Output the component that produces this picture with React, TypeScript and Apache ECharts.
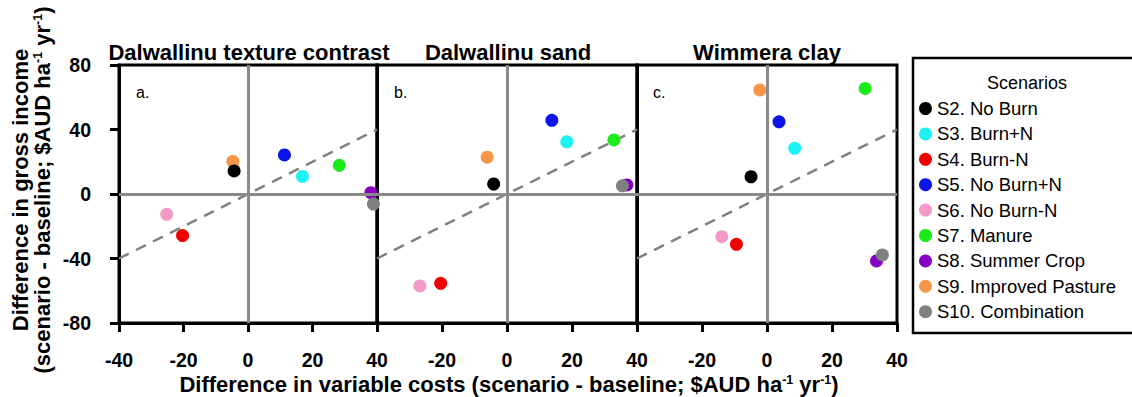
import React, { useEffect, useRef } from "react";
import * as echarts from "echarts";

const scenarios = [
  "S2. No Burn",
  "S3. Burn+N",
  "S4. Burn-N",
  "S5. No Burn+N",
  "S6. No Burn-N",
  "S7. Manure",
  "S8. Summer Crop",
  "S9. Improved Pasture",
  "S10. Combination",
];
const scenarioColors = [
  "#000000",
  "#1AF2F5",
  "#F20000",
  "#0A14EB",
  "#F49AC8",
  "#1AEB1A",
  "#8600C4",
  "#F79646",
  "#808080",
];

// Difference in variable costs (x) and gross income (y), per site
const textureCost = [-4.3, 16.9, -20.3, 11.3, -25.2, 28.3, 38.1, -4.7, 38.9];
const textureIncome = [14.3, 10.9, -25.8, 24.2, -12.6, 17.8, 0.8, 20.2, -6.2];
const sandCost = [-4.1, 18.4, -20.4, 13.8, -26.8, 32.9, 36.9, -6.1, 35.5];
const sandIncome = [6.2, 32.4, -55.4, 45.7, -57.0, 33.5, 5.6, 22.8, 5.1];
const clayCost = [-4.9, 8.5, -9.4, 3.7, -13.9, 30.2, 33.7, -2.2, 35.5];
const clayIncome = [10.7, 28.3, -31.2, 44.8, -26.5, 65.5, -41.5, 64.5, -37.8];

const panelTitles = ["Dalwallinu texture contrast", "Dalwallinu sand", "Wimmera clay"];
const panelLetters = ["a.", "b.", "c."];
const breakEvenLine = [
  [-40, -40],
  [40, 40],
];
const xMin = -40;
const xMax = 40;
const xStep = 20;
const yMin = -80;
const yMax = 80;
const yStep = 40;

const unitText = "$AUD ha{sup|-1} yr{sup|-1})";
const xTitle = "Difference in variable costs (scenario - baseline; " + unitText;
const yTitle1 = "Difference in gross income";
const yTitle2 = "(scenario - baseline; " + unitText;

const FONT = "'Liberation Sans', Arial, Helvetica, sans-serif";

export default function App() {
  const ref = useRef<HTMLDivElement>(null);
  useEffect(() => {
    if (!ref.current) return;
    const chart = echarts.init(ref.current, null, { renderer: "svg" });
    const panels = [
      { cost: textureCost, income: textureIncome },
      { cost: sandCost, income: sandIncome },
      { cost: clayCost, income: clayIncome },
    ];
    const gridLefts = [119, 377, 637];
    const gridWidths = [258, 260, 260];
    const grids = gridLefts.map((l, i) => ({
      left: l,
      top: 65,
      width: gridWidths[i],
      height: 258,
      show: true,
      borderColor: "#000",
      borderWidth: 3,
      backgroundColor: "transparent",
    }));
    const xAxes = gridLefts.map((_, i) => ({
      gridIndex: i,
      type: "value",
      min: xMin,
      max: xMax,
      interval: xStep,
      axisLine: { show: true, onZero: false, lineStyle: { color: "#000", width: 3 } },
      axisTick: { show: true, length: 9, lineStyle: { color: "#000", width: 3 } },
      axisLabel: {
        show: true,
        margin: 27,
        showMinLabel: i === 0,
        color: "#000",
        fontSize: 19.5,
        fontWeight: "bold",
        fontFamily: FONT,
      },
      splitLine: { show: false },
    }));
    const yAxes = gridLefts.map((_, i) => ({
      gridIndex: i,
      type: "value",
      min: yMin,
      max: yMax,
      interval: yStep,
      axisLine: { show: true, onZero: false, lineStyle: { color: "#000", width: 3 } },
      axisTick: { show: i === 0, length: 9, lineStyle: { color: "#000", width: 3 } },
      axisLabel: {
        show: i === 0,
        margin: 28,
        color: "#000",
        fontSize: 19.5,
        fontWeight: "bold",
        fontFamily: FONT,
      },
      splitLine: { show: false },
    }));

    const series: any[] = [];
    panels.forEach((p, pi) => {
      series.push({
        type: "line",
        xAxisIndex: pi,
        yAxisIndex: pi,
        data: breakEvenLine,
        symbol: "none",
        silent: true,
        z: 1,
        lineStyle: { color: "#808080", width: 2.5, type: [11, 8] },
        markLine: {
          silent: true,
          symbol: "none",
          label: { show: false },
          lineStyle: { color: "#8a8a8a", width: 3, type: "solid" },
          data: [{ xAxis: 0 }, { yAxis: 0 }],
        },
      });
      scenarios.forEach((name, si) => {
        series.push({
          type: "scatter",
          name,
          xAxisIndex: pi,
          yAxisIndex: pi,
          symbol: "circle",
          symbolSize: 13,
          clip: false,
          z: si === 7 ? 2 : 3,
          itemStyle: { color: scenarioColors[si], opacity: 1 },
          data: [[p.cost[si], p.income[si]]],
        });
      });
    });

    const titleStyle = (text: string) => ({
      text,
      fontSize: 22,
      fontWeight: "bold",
      fontFamily: FONT,
      fill: "#000",
      align: "center",
      verticalAlign: "middle",
      textAlign: "center",
      textVerticalAlign: "middle",
      rich: {
        sup: {
          fontSize: 12.5,
          fontWeight: "bold",
          fontFamily: FONT,
          fill: "#000",
          verticalAlign: "top",
          lineHeight: 22,
        },
      },
    });

    const titleCenters = [249, 508, 767];
    const letterX = [136, 394, 653];
    const graphic: any[] = [];
    panelTitles.forEach((t, i) => {
      graphic.push({
        type: "text",
        x: titleCenters[i],
        y: 52,
        style: {
          text: t,
          fontSize: 22,
          fontWeight: "bold",
          fontFamily: FONT,
          fill: "#000",
          align: "center",
          verticalAlign: "middle",
          textAlign: "center",
          textVerticalAlign: "middle",
        },
      });
      graphic.push({
        type: "text",
        x: letterX[i],
        y: 92,
        style: {
          text: panelLetters[i],
          fontSize: 16,
          fontFamily: FONT,
          fill: "#000",
          align: "left",
          verticalAlign: "middle",
          textAlign: "left",
          textVerticalAlign: "middle",
        },
      });
    });
    graphic.push({
      type: "text",
      x: 509,
      y: 384,
      style: titleStyle(xTitle),
    });
    [yTitle1, yTitle2].forEach((t, i) => {
      graphic.push({
        type: "text",
        x: i === 0 ? 20 : 42,
        y: 190,
        rotation: Math.PI / 2,
        style: titleStyle(t),
      });
    });
    graphic.push({
      type: "rect",
      shape: { x: 913, y: 58, width: 240, height: 275 },
      style: { fill: "none", stroke: "#000", lineWidth: 2.5 },
    });
    graphic.push({
      type: "text",
      x: 1027,
      y: 83,
      style: {
        text: "Scenarios",
        fontSize: 18,
        fontFamily: FONT,
        fill: "#000",
        align: "center",
        verticalAlign: "middle",
        textAlign: "center",
        textVerticalAlign: "middle",
      },
    });

    chart.setOption({
      animation: false,
      backgroundColor: "#fff",
      grid: grids,
      xAxis: xAxes,
      yAxis: yAxes,
      legend: {
        orient: "vertical",
        left: 919,
        top: 99,
        itemWidth: 13,
        itemHeight: 13,
        itemGap: 6.4,
        padding: 0,
        icon: "circle",
        data: scenarios,
        selectedMode: false,
        textStyle: { fontSize: 18.5, fontFamily: FONT, color: "#000" },
      },
      graphic,
      series,
    });
    return () => chart.dispose();
  }, []);
  return (
    <div
      ref={ref}
      style={{ position: "fixed", left: 0, top: 0, width: 1132, height: 397, background: "#fff" }}
    />
  );
}
